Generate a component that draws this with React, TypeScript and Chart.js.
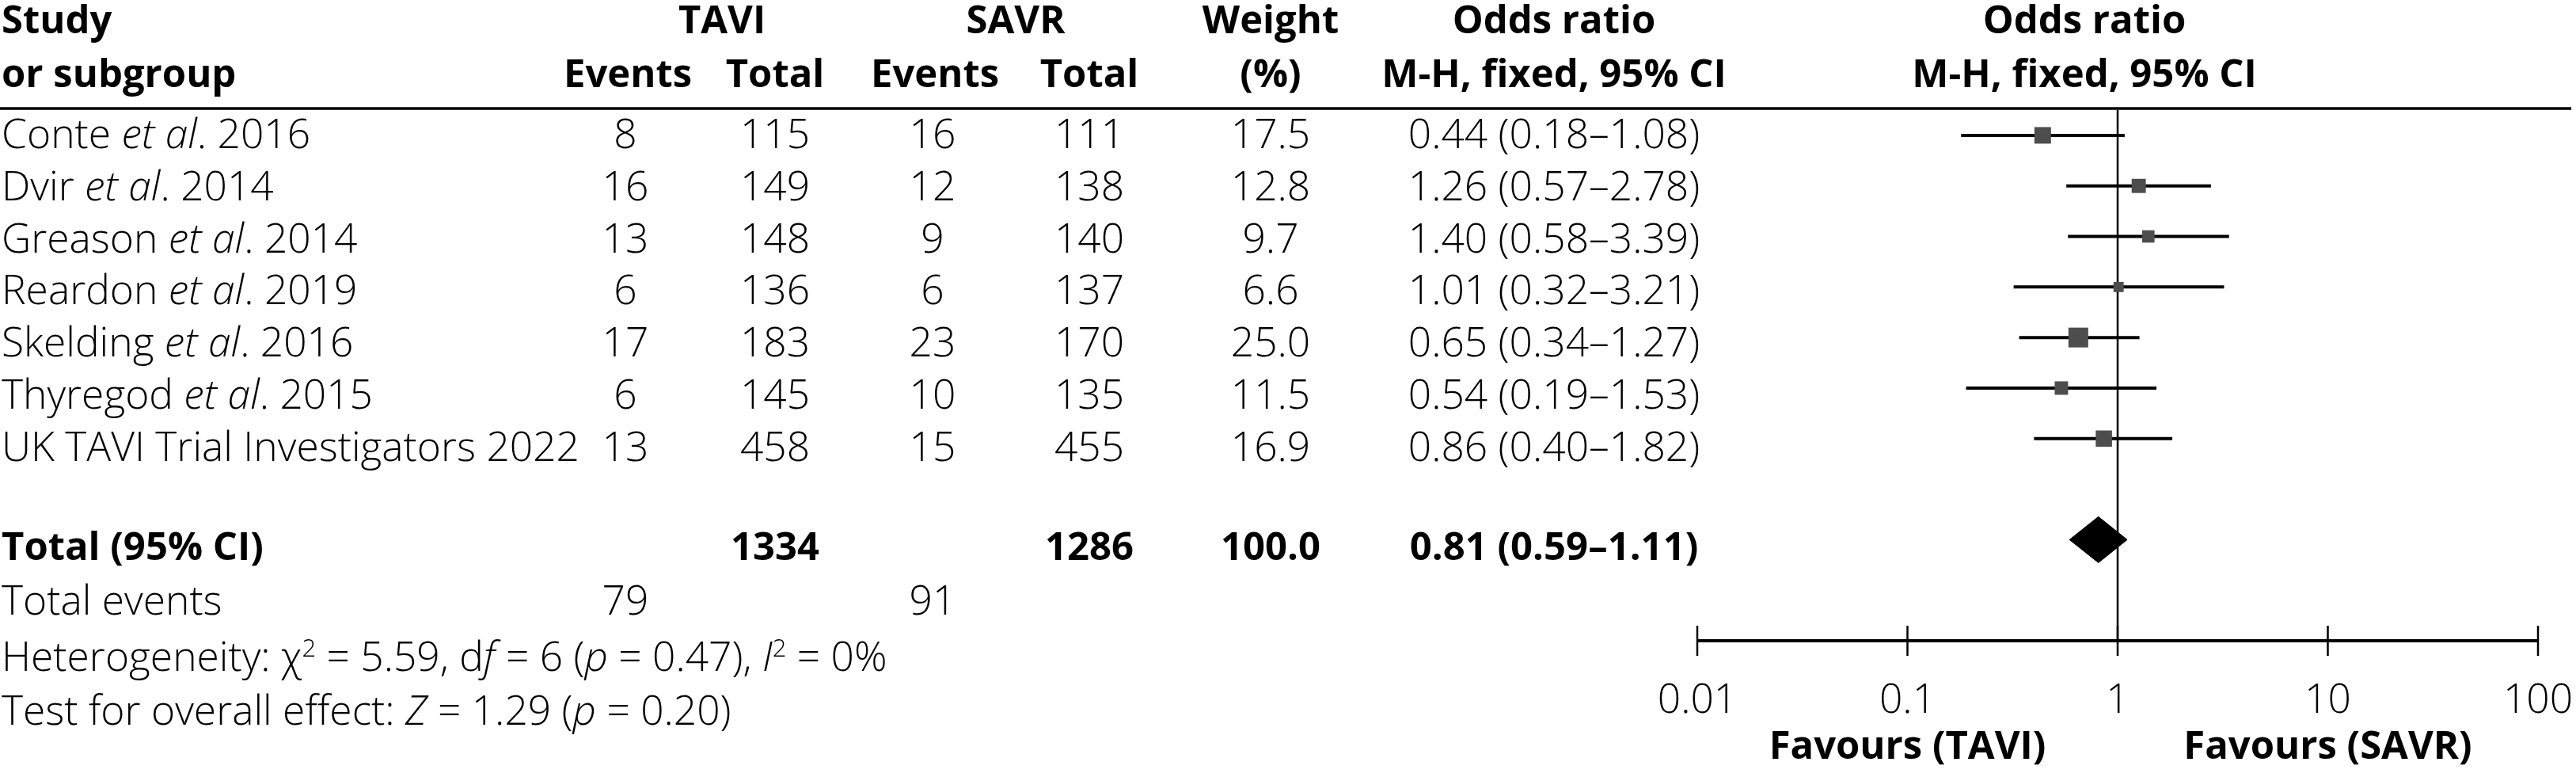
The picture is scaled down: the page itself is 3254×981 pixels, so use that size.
import React, { useEffect, useRef } from 'react';
import { Chart, registerables } from 'chart.js';

Chart.register(...registerables);

// ---------------- data ----------------
const STUDY_NAMES = ['Conte', 'Dvir', 'Greason', 'Reardon', 'Skelding', 'Thyregod', 'UK TAVI Trial Investigators'];
const STUDY_ET_AL = [true, true, true, true, true, true, false];
const STUDY_YEARS = ['2016', '2014', '2014', '2019', '2016', '2015', '2022'];
const TAVI_EVENTS = [8, 16, 13, 6, 17, 6, 13];
const TAVI_TOTAL = [115, 149, 148, 136, 183, 145, 458];
const SAVR_EVENTS = [16, 12, 9, 6, 23, 10, 15];
const SAVR_TOTAL = [111, 138, 140, 137, 170, 135, 455];
const WEIGHT = [17.5, 12.8, 9.7, 6.6, 25.0, 11.5, 16.9];
const ODDS_RATIO = [0.44, 1.26, 1.40, 1.01, 0.65, 0.54, 0.86];
const CI_LOWER = [0.18, 0.57, 0.58, 0.32, 0.34, 0.19, 0.40];
const CI_UPPER = [1.08, 2.78, 3.39, 3.21, 1.27, 1.53, 1.82];

const POOLED_OR = [0.81, 0.59, 1.11]; // estimate, lower, upper
const POOLED_TOTALS = [1334, 1286]; // TAVI, SAVR
const POOLED_WEIGHT = [100.0];
const TOTAL_EVENTS = [79, 91]; // TAVI, SAVR
const HETEROGENEITY = ['5.59', '6', '0.47', '0%']; // chi2, df, p, I2
const OVERALL_EFFECT = ['1.29', '0.20']; // Z, p
const X_TICKS = [0.01, 0.1, 1, 10, 100];
const X_TICK_LABELS = ['0.01', '0.1', '1', '10', '100'];
const FAVOURS_LABELS = ['Favours (TAVI)', 'Favours (SAVR)'];
const FAVOURS_AT = [0.1, 10];

// ---------------- layout / style ----------------
const W = 3254;
const H = 981;
const FONT = '"Open Sans", "Noto Sans", sans-serif';
const FS_LIGHT = 51.5;
const FS_BOLD = 49;
const LIGHT = 300;
const BOLD = 700;
const COL = {
  study: 2,
  taviE: 790,
  taviT: 979,
  savrE: 1178,
  savrT: 1376,
  weight: 1605,
  or: 1963,
  plot: 2633,
  taviHead: 912,
  savrHead: 1283,
};
const HEAD1 = 42;
const HEAD2 = 110;
const RULE_Y = 137;
const ROW0 = 187;
const ROW_STEP = 65.8;
const TOTAL_BASE = 707;
const EVENTS_BASE = 776;
const HET_BASE = 847;
const TEST_BASE = 915;
const TICK_LABEL_BASE = 900;
const FAVOURS_BASE = 958;
const POOLED_ROW = 8;
const AXIS_ROW = 10;
const DIAMOND_HALF = 0.455;
const SQUARE_K = 5;
const SQUARE_COLOR = '#4d4d4d';

type Seg = { t: string; it?: boolean; bd?: boolean; sup?: boolean };

function segFont(s: Seg) {
  const base = s.bd ? FS_BOLD : FS_LIGHT;
  const size = s.sup ? Math.round(base * 0.6) : base;
  return `${s.it ? 'italic ' : ''}${s.bd ? BOLD : LIGHT} ${size}px ${FONT}`;
}

function drawSegs(ctx: CanvasRenderingContext2D, segs: Seg[], x: number, y: number, align: 'left' | 'center') {
  ctx.textAlign = 'left';
  ctx.textBaseline = 'alphabetic';
  const widths = segs.map((s) => {
    ctx.font = segFont(s);
    return ctx.measureText(s.t).width;
  });
  const total = widths.reduce((a, b) => a + b, 0);
  let cx = align === 'center' ? x - total / 2 : x;
  segs.forEach((s, k) => {
    ctx.font = segFont(s);
    ctx.fillText(s.t, cx, s.sup ? y - FS_LIGHT * 0.34 : y);
    cx += widths[k];
  });
}

function txt(ctx: CanvasRenderingContext2D, t: string, x: number, y: number, align: 'left' | 'center', bold = false) {
  drawSegs(ctx, [{ t, bd: bold }], x, y, align);
}

const forestPlugin = {
  id: 'forestDecor',
  beforeDatasetsDraw(chart: any) {
    const { ctx, scales } = chart;
    const x = scales.x;
    const y = scales.y;
    ctx.save();
    const x1 = x.getPixelForValue(1);
    ctx.strokeStyle = '#000';
    ctx.lineWidth = 2.5;
    ctx.beginPath();
    ctx.moveTo(x1, y.getPixelForValue(y.min));
    ctx.lineTo(x1, y.getPixelForValue(AXIS_ROW));
    ctx.stroke();
    ctx.restore();
  },
  afterDraw(chart: any) {
    const { ctx, scales } = chart;
    const x = scales.x;
    const y = scales.y;
    ctx.save();
    ctx.fillStyle = '#000';
    ctx.strokeStyle = '#000';

    // header rule
    ctx.lineWidth = 3.5;
    ctx.beginPath();
    ctx.moveTo(0, RULE_Y);
    ctx.lineTo(W - 6, RULE_Y);
    ctx.stroke();

    // x axis
    const ay = y.getPixelForValue(AXIS_ROW);
    ctx.lineWidth = 4;
    ctx.beginPath();
    ctx.moveTo(x.getPixelForValue(X_TICKS[0]), ay);
    ctx.lineTo(x.getPixelForValue(X_TICKS[X_TICKS.length - 1]), ay);
    ctx.stroke();
    ctx.lineWidth = 2.5;
    X_TICKS.forEach((t, k) => {
      const px = x.getPixelForValue(t);
      ctx.beginPath();
      ctx.moveTo(px, ay - 19);
      ctx.lineTo(px, ay + 19);
      ctx.stroke();
      txt(ctx, X_TICK_LABELS[k], px, TICK_LABEL_BASE, 'center');
    });
    FAVOURS_LABELS.forEach((lab, k) => {
      txt(ctx, lab, x.getPixelForValue(FAVOURS_AT[k]), FAVOURS_BASE, 'center', true);
    });

    // headers
    txt(ctx, 'Study', COL.study, HEAD1, 'left', true);
    txt(ctx, 'TAVI', COL.taviHead, HEAD1, 'center', true);
    txt(ctx, 'SAVR', COL.savrHead, HEAD1, 'center', true);
    txt(ctx, 'Weight', COL.weight, HEAD1, 'center', true);
    txt(ctx, 'Odds ratio', COL.or, HEAD1, 'center', true);
    txt(ctx, 'Odds ratio', COL.plot, HEAD1, 'center', true);
    txt(ctx, 'or subgroup', COL.study, HEAD2, 'left', true);
    txt(ctx, 'Events', COL.taviE + 3, HEAD2, 'center', true);
    txt(ctx, 'Total', COL.taviT, HEAD2, 'center', true);
    txt(ctx, 'Events', COL.savrE + 3, HEAD2, 'center', true);
    txt(ctx, 'Total', COL.savrT, HEAD2, 'center', true);
    txt(ctx, '(%)', COL.weight, HEAD2, 'center', true);
    txt(ctx, 'M-H, fixed, 95% CI', COL.or, HEAD2, 'center', true);
    txt(ctx, 'M-H, fixed, 95% CI', COL.plot, HEAD2, 'center', true);

    // study rows
    STUDY_NAMES.forEach((name, i) => {
      const by = ROW0 + ROW_STEP * i;
      const segs: Seg[] = STUDY_ET_AL[i]
        ? [{ t: name + ' ' }, { t: 'et al', it: true }, { t: '. ' + STUDY_YEARS[i] }]
        : [{ t: name + ' ' + STUDY_YEARS[i] }];
      drawSegs(ctx, segs, COL.study, by, 'left');
      txt(ctx, String(TAVI_EVENTS[i]), COL.taviE, by, 'center');
      txt(ctx, String(TAVI_TOTAL[i]), COL.taviT, by, 'center');
      txt(ctx, String(SAVR_EVENTS[i]), COL.savrE, by, 'center');
      txt(ctx, String(SAVR_TOTAL[i]), COL.savrT, by, 'center');
      txt(ctx, WEIGHT[i].toFixed(1), COL.weight, by, 'center');
      txt(
        ctx,
        `${ODDS_RATIO[i].toFixed(2)} (${CI_LOWER[i].toFixed(2)}\u2013${CI_UPPER[i].toFixed(2)})`,
        COL.or,
        by,
        'center'
      );
    });

    // pooled row
    txt(ctx, 'Total (95% CI)', COL.study, TOTAL_BASE, 'left', true);
    txt(ctx, String(POOLED_TOTALS[0]), COL.taviT, TOTAL_BASE, 'center', true);
    txt(ctx, String(POOLED_TOTALS[1]), COL.savrT, TOTAL_BASE, 'center', true);
    txt(ctx, POOLED_WEIGHT[0].toFixed(1), COL.weight, TOTAL_BASE, 'center', true);
    txt(
      ctx,
      `${POOLED_OR[0].toFixed(2)} (${POOLED_OR[1].toFixed(2)}\u2013${POOLED_OR[2].toFixed(2)})`,
      COL.or,
      TOTAL_BASE,
      'center',
      true
    );

    // totals & statistics
    txt(ctx, 'Total events', COL.study, EVENTS_BASE, 'left');
    txt(ctx, String(TOTAL_EVENTS[0]), COL.taviE, EVENTS_BASE, 'center');
    txt(ctx, String(TOTAL_EVENTS[1]), COL.savrE, EVENTS_BASE, 'center');
    drawSegs(
      ctx,
      [
        { t: 'Heterogeneity: \u03c7' },
        { t: '2', sup: true },
        { t: ` = ${HETEROGENEITY[0]}, d` },
        { t: 'f', it: true },
        { t: ` = ${HETEROGENEITY[1]} (` },
        { t: 'p', it: true },
        { t: ` = ${HETEROGENEITY[2]}), ` },
        { t: 'I', it: true },
        { t: '2', sup: true },
        { t: ` = ${HETEROGENEITY[3]}` },
      ],
      COL.study,
      HET_BASE,
      'left'
    );
    drawSegs(
      ctx,
      [
        { t: 'Test for overall effect: ' },
        { t: 'Z', it: true },
        { t: ` = ${OVERALL_EFFECT[0]} (` },
        { t: 'p', it: true },
        { t: ` = ${OVERALL_EFFECT[1]})` },
      ],
      COL.study,
      TEST_BASE,
      'left'
    );
    ctx.restore();
  },
};

export default function App() {
  const ref = useRef<HTMLCanvasElement | null>(null);

  useEffect(() => {
    document.body.style.margin = '0';
    const canvas = ref.current;
    if (!canvas) return;

    const ciDatasets = STUDY_NAMES.map((_, i) => ({
      type: 'line' as const,
      data: [
        { x: CI_LOWER[i], y: i },
        { x: CI_UPPER[i], y: i },
      ],
      borderColor: '#000',
      borderWidth: 4,
      pointRadius: 0,
      fill: false,
      order: 2,
    }));

    const squares = {
      type: 'scatter' as const,
      data: ODDS_RATIO.map((v, i) => ({ x: v, y: i })),
      pointStyle: 'rect',
      pointRadius: (c: any) => (SQUARE_K * Math.sqrt(WEIGHT[c.dataIndex] ?? 0)) / Math.SQRT2,
      pointBackgroundColor: SQUARE_COLOR,
      backgroundColor: SQUARE_COLOR,
      pointBorderWidth: 0,
      borderWidth: 0,
      order: 0,
    };

    const diamond = {
      type: 'line' as const,
      data: [
        { x: POOLED_OR[1], y: POOLED_ROW },
        { x: POOLED_OR[0], y: POOLED_ROW - DIAMOND_HALF },
        { x: POOLED_OR[2], y: POOLED_ROW },
        { x: POOLED_OR[0], y: POOLED_ROW + DIAMOND_HALF },
        { x: POOLED_OR[1], y: POOLED_ROW },
      ],
      borderColor: '#000',
      backgroundColor: '#000',
      borderWidth: 1,
      pointRadius: 0,
      tension: 0,
      fill: 'shape',
      order: 1,
    };

    const chart = new Chart(canvas, {
      type: 'scatter',
      data: { datasets: [squares, diamond, ...ciDatasets] as any },
      options: {
        animation: false,
        responsive: false,
        devicePixelRatio: 1,
        events: [],
        layout: { padding: { left: 2144, right: 48, top: 139, bottom: 172 } },
        scales: {
          x: { type: 'logarithmic', min: 0.01, max: 100, display: false },
          y: { type: 'linear', min: -0.5, max: AXIS_ROW, reverse: true, display: false },
        },
        plugins: {
          legend: { display: false },
          tooltip: { enabled: false },
        },
      } as any,
      plugins: [forestPlugin],
    });

    return () => chart.destroy();
  }, []);

  return (
    <div style={{ position: 'absolute', left: 0, top: 0, width: W, height: H, background: '#fff' }}>
      <canvas ref={ref} width={W} height={H} style={{ display: 'block', width: W, height: H }} />
    </div>
  );
}
